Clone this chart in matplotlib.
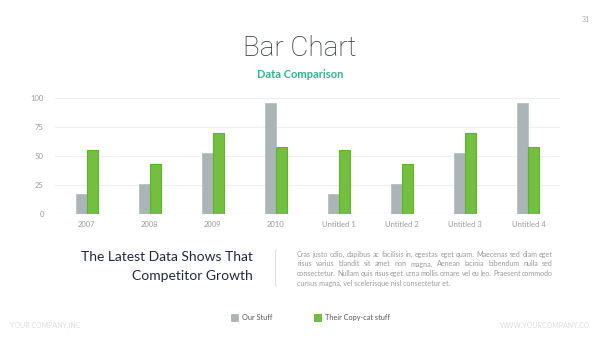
import matplotlib
matplotlib.use('Agg')
import matplotlib.pyplot as plt
from matplotlib.font_manager import FontProperties
import numpy as np

# データ
categories = ["2007", "2008", "2009", "2010", "Untitled 1", "Untitled 2", "Untitled 3", "Untitled 4"]
our_stuff = [17, 26, 53, 96, 17, 26, 53, 96]
their_stuff = [55, 43, 70, 58, 55, 43, 70, 58]
yticks = [0, 25, 50, 75, 100]
series_names = ["Our Stuff", "Their Copy-cat stuff"]

para_lines = [
    "Cras justo odio, dapibus ac facilisis in, egestas eget quam. Maecenas sed diam eget",
    "risus varius blandit sit amet non magna. Aenean lacinia bibendum nulla sed",
    "consectetur. Nullam quis risus eget urna mollis ornare vel eu leo. Praesent commodo",
    "cursus magna, vel scelerisque nisl consectetur et.",
]

GRAY = "#abb4b6"
GREEN = "#74bf3f"
GREEN_EDGE = "#5cb42a"
TEAL = "#2fb38e"
NAVY = "#1f2940"
LIGHT = "#9a9a9a"

plt.rcParams['font.family'] = ['Lato', 'DejaVu Sans']

W, H = 600, 338
fig = plt.figure(figsize=(6, 3.38), dpi=100, facecolor='white')

def fx(px):
    return px / W

def fy(py):
    return 1 - py / H

ax = fig.add_axes([fx(55), fy(214), fx(505), fy(98) - fy(214)])
x = np.arange(len(categories))
bw = 0.175
ax.bar(x - bw / 2, our_stuff, bw, color=GRAY, edgecolor="#b8c0c2", linewidth=0.6, zorder=3)
ax.bar(x + bw / 2, their_stuff, bw, color=GREEN, edgecolor=GREEN_EDGE, linewidth=0.8, zorder=3)
ax.set_xlim(-0.5, len(categories) - 0.5)
ax.set_ylim(0, 100)
ax.set_yticks(yticks)
ax.set_xticks(x)
ax.set_xticklabels(categories)
ax.tick_params(axis='both', length=0, labelsize=5.5, labelcolor=LIGHT)
ax.tick_params(axis='y', pad=8)
ax.tick_params(axis='x', pad=5)
ax.grid(axis='y', color="#efefef", linewidth=0.8, zorder=0)
for s in ax.spines.values():
    s.set_visible(False)
ax.axhline(0, color="#e6e6e6", linewidth=0.8, zorder=1)

# タイトル
fig.text(0.5, fy(48), "Bar Chart", ha='center', va='center', fontsize=20,
         family=['Roboto', 'DejaVu Sans'], fontweight='light', color="#2a2e38")
fig.text(0.5, fy(74), "Data Comparison", ha='center', va='center', fontsize=8,
         fontweight='bold', color=TEAL)
fig.text(fx(590), fy(19), "31", ha='right', va='center', fontsize=5, color="#aaaaaa")

# 下の見出し
fig.text(fx(253), fy(257), "The Latest Data Shows That", ha='right', va='center',
         fontsize=10, color=NAVY)
fig.text(fx(253), fy(276), "Competitor Growth", ha='right', va='center',
         fontsize=10, color=NAVY)
fig.add_artist(plt.Line2D([fx(275), fx(275)], [fy(250), fy(285)], color="#dddddd", linewidth=0.8))

# 両端揃えの段落
PSIZE = 5.1
fig.canvas.draw()
renderer = fig.canvas.get_renderer()
fp = FontProperties(family=['Lato', 'DejaVu Sans'], size=PSIZE)
px_left, px_right = 297, 553
line_base = [257, 266.5, 276, 285.5]
for i, line in enumerate(para_lines):
    words = line.split(" ")
    if i == len(para_lines) - 1:
        fig.text(fx(px_left), fy(line_base[i]), line, ha='left', va='baseline',
                 fontsize=PSIZE, color=LIGHT)
        continue
    widths = [renderer.get_text_width_height_descent(w, fp, ismath=False)[0] for w in words]
    gap = (px_right - px_left - sum(widths)) / (len(words) - 1)
    cur = px_left
    for w, wd in zip(words, widths):
        fig.text(fx(cur), fy(line_base[i]), w, ha='left', va='baseline', fontsize=PSIZE, color=LIGHT)
        cur += wd + gap

# 凡例
for (sx, col, ec), name in zip([(231, GRAY, GRAY), (314, GREEN, GREEN_EDGE)], series_names):
    fig.add_artist(plt.Rectangle((fx(sx), fy(321)), fx(7), fy(314) - fy(321),
                                 facecolor=col, edgecolor=ec, linewidth=0.6))
    fig.text(fx(sx + 11), fy(317.5), name, ha='left', va='center', fontsize=5.3, color="#555555")

# フッター
fig.text(fx(10), fy(325), "YOUR COMPANY,INC", ha='left', va='center', fontsize=5, color="#dddddd")
fig.text(fx(590), fy(325), "WWW.YOURCOMPANY.CO", ha='right', va='center', fontsize=5, color="#dddddd")

fig.savefig("out.png", dpi=100, facecolor='white')
